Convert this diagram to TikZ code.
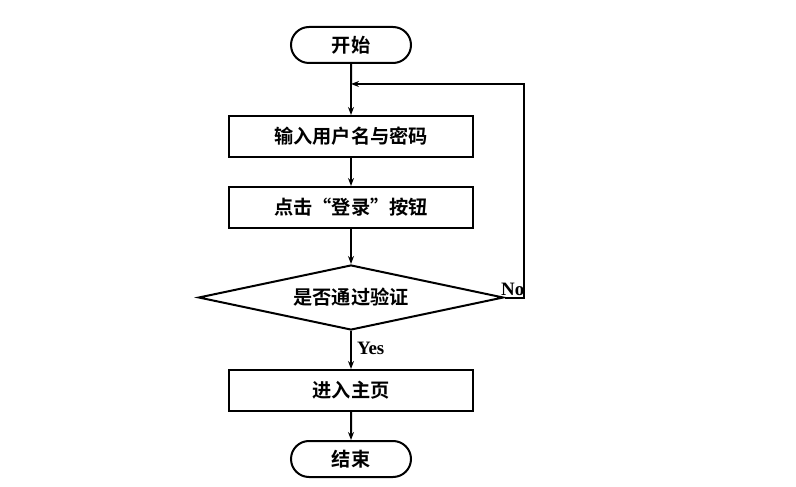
\documentclass[tikz,border=0pt]{standalone}
\usepackage{fontspec}
\newfontfamily\cjk{Noto Sans CJK SC}[BoldFont={Noto Sans CJK SC Bold}]
\newfontfamily\lat{Liberation Serif}
\usetikzlibrary{shapes.geometric,shapes.misc,arrows.meta}
\begin{document}
\begin{tikzpicture}[x=1bp,y=-1bp,
  every node/.style={inner sep=0pt},
  base/.style={draw=black,line width=2bp,font=\cjk\bfseries\fontsize{19.3}{22}\selectfont},
  term/.style={base,rounded rectangle,minimum width=120bp,minimum height=36bp},
  proc/.style={base,rectangle,minimum width=244bp,minimum height=41bp},
  dec/.style={base,diamond,aspect=4.7,minimum width=305bp,minimum height=65bp},
  conn/.style={line width=2bp,-{Stealth[length=8bp,width=6bp]}},
  lbl/.style={font=\lat\bfseries\fontsize{19}{21}\selectfont}]
\useasboundingbox (0,0) rectangle (796,487);
\node[term] (start) at (351,45) {开始};
\node[proc] (in) at (351,136.5) {输入用户名与密码};
\node[proc] (click) at (351,207.5) {点击“登录”按钮};
\node[dec] (chk) at (351,297.5) {是否通过验证};
\node[proc] (home) at (351,390.5) {进入主页};
\node[term] (end) at (351,459) {结束};
\coordinate (j) at (351,84);
\coordinate (r1) at (524,297.5);
\coordinate (r2) at (524,84);
\draw[line width=2bp] (start) -- (j);
\draw[conn] (j) -- (in);
\draw[conn] (in) -- (click);
\draw[conn] (click) -- (chk);
\draw[conn] (chk) -- node[lbl,right=5bp,pos=0.45]{Yes} (home);
\draw[conn] (home) -- (end);
\draw[conn] (chk.east) -- (r1) -- (r2) -- (j);
\node[lbl,anchor=south west] (no) at (501,296) {No};
\end{tikzpicture}
\end{document}
